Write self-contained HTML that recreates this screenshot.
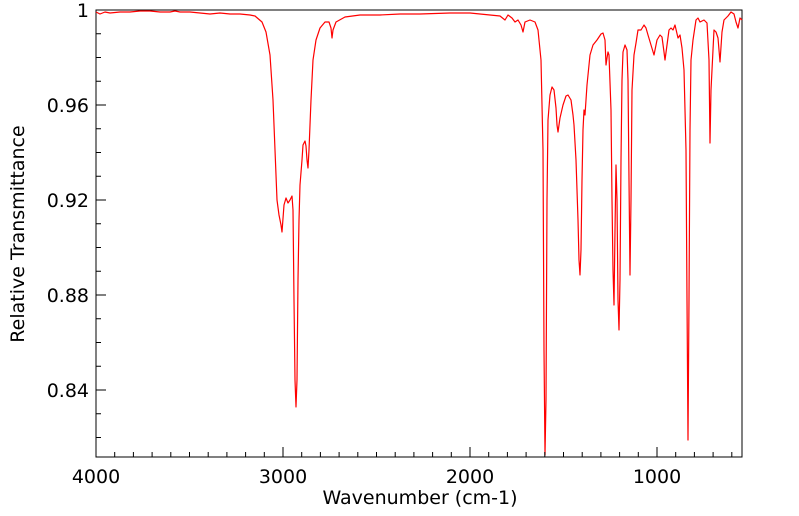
<!DOCTYPE html>
<html><head><meta charset="utf-8"><style>body{margin:0;background:#fff}svg{display:block}text{font-family:"DejaVu Sans","Liberation Sans",sans-serif;font-size:19px;fill:#000}</style></head><body>
<svg width="799" height="516" viewBox="0 0 799 516">
<rect x="96" y="10" width="646" height="447" fill="none" stroke="#000" stroke-width="1"/>
<g text-anchor="end">
<text x="89" y="17">1</text><text x="89" y="112">0.96</text><text x="89" y="207">0.92</text><text x="89" y="302">0.88</text><text x="89" y="397">0.84</text>
</g>
<g text-anchor="middle">
<text x="96" y="483">4000</text><text x="283" y="483">3000</text><text x="470" y="483">2000</text><text x="657" y="483">1000</text>
<text x="420" y="504">Wavenumber (cm-1)</text>
</g>
<text transform="translate(24,234) rotate(-90)" text-anchor="middle">Relative Transmittance</text>
<polyline fill="none" stroke="#f00" stroke-width="1.2" stroke-linejoin="round" points="96,12 100,14 105,12 110,13 120,12 130,12 140,11 150,11 160,12 170,12 175,11 180,12 190,12 200,13 210,14 220,13 230,14 240,14 250,15 255,16 262,22 266,32 270,55 273,100 275,150 277,200 279,215 281,225 282,232 284,205 286,198 288,203 290,200 292,196 293,210 294,300 295,380 296,407 297,380 298,280 299,220 300,185 302,160 303,145 305,141 306,146 307,160 308,168 309,150 311,100 313,60 316,40 320,28 325,22 329,22 331,28 332,38 333,30 336,22 345,17 360,15 380,15 400,14 420,14 450,13 470,13 480,14 500,16 505,20 508,15 512,18 515,22 518,20 521,25 523,32 525,22 530,20 535,22 538,30 541,60 543,150 544,350 545,455 546,400 547,200 548,120 550,95 552,87 554,90 556,108 557,125 558,132 560,118 563,105 566,96 568,95 571,100 573,115 574,125 576,160 578,220 579,260 580,275 581,250 582,180 583,130 584,110 585,115 587,85 590,55 593,45 597,40 601,34 603,33 605,40 606,65 607,58 608,52 609,55 611,110 612,200 613,270 614,305 615,230 616,165 617,200 618,300 619,330 620,280 621,160 622,80 623,52 625,45 627,50 628,80 629,180 630,275 631,200 632,90 634,55 636,43 638,30 641,30 644,25 646,28 648,35 651,45 654,55 655,50 657,40 660,35 662,37 664,52 665,60 667,45 669,30 671,28 673,30 675,25 678,38 680,35 682,48 684,70 686,150 687,300 688,440 689,300 690,130 691,60 693,40 696,20 698,18 700,22 704,20 707,23 709,60 710,143 711,90 713,50 714,30 716,32 718,38 720,62 722,32 724,20 728,16 731,12 734,14 736,22 738,28 740,18 742,20"/>
<g stroke="#000" stroke-width="1">
<path d="M96,10h10M96,33.75h5M96,57.5h5M96,81.25h5M96,105h10M96,128.75h5M96,152.5h5M96,176.25h5M96,200h10M96,223.75h5M96,247.5h5M96,271.25h5M96,295h10M96,318.75h5M96,342.5h5M96,366.25h5M96,390h10M96,413.75h5M96,437.5h5"/>
<path d="M283,457v-10M470,457v-10M657,457v-10M114.7,457v-5M133.4,457v-5M152.1,457v-5M170.8,457v-5M189.5,457v-5M208.2,457v-5M226.9,457v-5M245.6,457v-5M264.3,457v-5M301.7,457v-5M320.4,457v-5M339.1,457v-5M357.8,457v-5M376.5,457v-5M395.2,457v-5M413.9,457v-5M432.6,457v-5M451.3,457v-5M488.7,457v-5M507.4,457v-5M526.1,457v-5M544.8,457v-5M563.5,457v-5M582.2,457v-5M600.9,457v-5M619.6,457v-5M638.3,457v-5M675.7,457v-5M694.4,457v-5M713.1,457v-5M731.8,457v-5"/>
</g>
</svg>
</body></html>
